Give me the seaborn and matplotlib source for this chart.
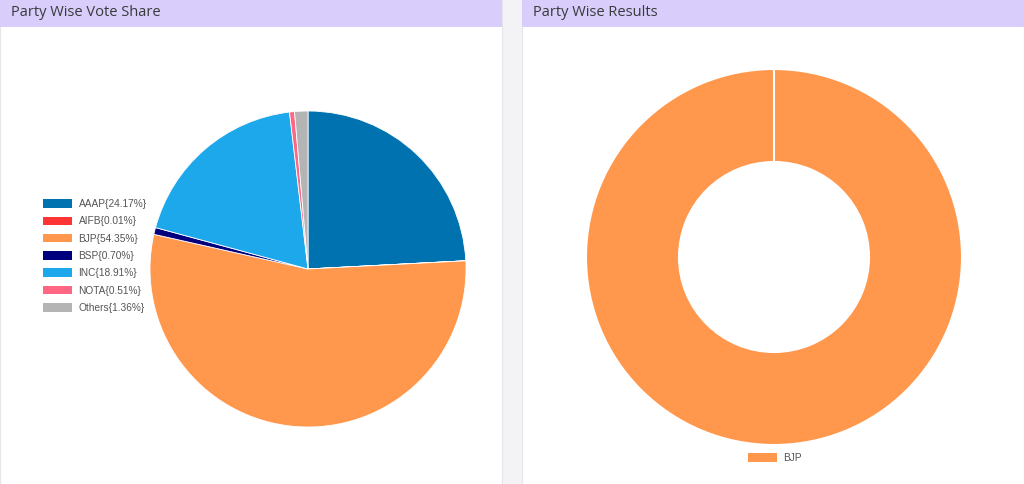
import matplotlib
matplotlib.use("Agg")
import matplotlib.pyplot as plt
import matplotlib.patches as mpatches
import seaborn as sns

# ======================
# DATA
# ======================
parties = ["AAAP", "AIFB", "BJP", "BSP", "INC", "NOTA", "Others"]
vote_share = [24.17, 0.01, 54.35, 0.70, 18.91, 0.51, 1.36]
party_colors = ["#0072b0", "#ff3535", "#ff974c", "#00007f", "#1ca8ea", "#ff6683", "#b4b4b4"]

result_parties = ["BJP"]
result_seats = [1]
result_colors = ["#ff974c"]

titles = ["Party Wise Vote Share", "Party Wise Results"]

sns.set_theme(style="white")
plt.rcParams["font.family"] = ["Liberation Sans", "DejaVu Sans"]

W, H = 1024, 484
fig = plt.figure(figsize=(W / 100, H / 100), dpi=100)
fig.patch.set_facecolor("#f3f3f6")


def px_axes(x0, y0, w, h):
    # pixel box (from top-left) -> figure coords
    ax = fig.add_axes([x0 / W, 1 - (y0 + h) / H, w / W, h / H])
    ax.set_zorder(5)
    return ax


# ======================
# PANELS + HEADERS
# ======================
for x0, x1, title in [(0, 502, titles[0]), (522, 1024, titles[1])]:
    fig.patches.append(mpatches.Rectangle((x0 / W, 0), (x1 - x0) / W, 1,
                                          transform=fig.transFigure, facecolor="white",
                                          edgecolor="#e6e6ea", linewidth=0.8, zorder=-2))
    fig.patches.append(mpatches.Rectangle((x0 / W, 1 - 27 / H), (x1 - x0) / W, 27 / H,
                                          transform=fig.transFigure, facecolor="#d8cdfb",
                                          edgecolor="none", zorder=-1))
    fig.text((x0 + 11) / W, 1 - 12 / H, title, fontsize=10.5, color="#3a3a3a",
             family=["Open Sans", "DejaVu Sans"], va="center", ha="left")

# ======================
# PIE - VOTE SHARE
# ======================
r1 = 158
box = 340
ax1 = px_axes(308 - box / 2, 269 - box / 2, box, box)
wedges, _ = ax1.pie(vote_share, colors=party_colors, startangle=90, counterclock=False,
                    radius=1, wedgeprops=dict(edgecolor="white", linewidth=0.6))
lim = box / 2 / r1
ax1.set_xlim(-lim, lim)
ax1.set_ylim(-lim, lim)
ax1.set_aspect("equal")
ax1.axis("off")

labels = [f"{p}{{{v:.2f}%}}" for p, v in zip(parties, vote_share)]
handles = [mpatches.Patch(facecolor=c, edgecolor="none") for c in party_colors]
fig.legend(handles, labels, loc="upper left", bbox_to_anchor=(43 / W, 1 - 199 / H),
           frameon=False, fontsize=7.3, labelcolor="#555555", handlelength=2.9,
           handleheight=0.9, handletextpad=0.6, labelspacing=0.72, borderaxespad=0,
           borderpad=0)

# ======================
# DONUT - RESULTS
# ======================
r2 = 188
box2 = 400
ax2 = px_axes(774 - box2 / 2, 257 - box2 / 2, box2, box2)
wedges2, _ = ax2.pie(result_seats, colors=result_colors, startangle=90, counterclock=False,
                     radius=1, wedgeprops=dict(width=93 / 188, edgecolor="white", linewidth=1.5))
# the slice border at its start angle (full ring hides it)
w0 = wedges2[0]
ax2.plot([0, 0], [w0.r - w0.width, w0.r], color="white", lw=1.5, zorder=3)
lim2 = box2 / 2 / r2
ax2.set_xlim(-lim2, lim2)
ax2.set_ylim(-lim2, lim2)
ax2.set_aspect("equal")
ax2.axis("off")

handles2 = [mpatches.Patch(facecolor=c, edgecolor="none") for c in result_colors]
fig.legend(handles2, result_parties, loc="center left", bbox_to_anchor=(748 / W, 1 - 458 / H),
           frameon=False, fontsize=7.3, labelcolor="#555555", handlelength=2.9,
           handleheight=0.9, handletextpad=0.55, borderaxespad=0, borderpad=0)

fig.savefig("out.png", dpi=100)
